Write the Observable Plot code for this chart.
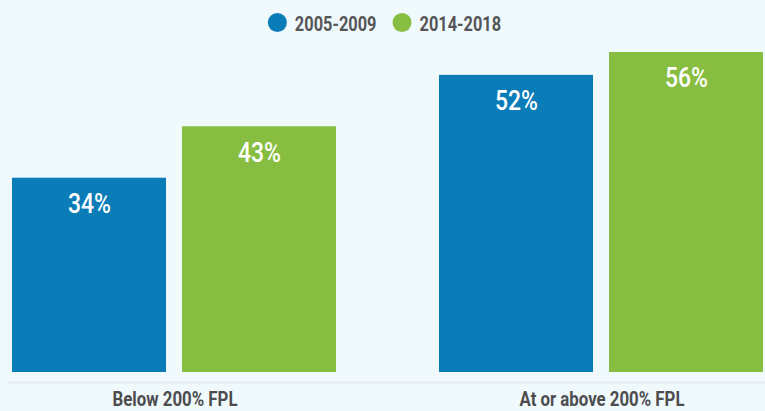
<!DOCTYPE html>
<html>
<head>
<meta charset="utf-8">
<script src="https://cdn.jsdelivr.net/npm/d3@7"></script>
<script src="https://cdn.jsdelivr.net/npm/@observablehq/plot@0.6"></script>
<style>
  html, body { margin: 0; padding: 0; background: #f0f9fc; }
  body { width: 765px; height: 411px; overflow: hidden; font-family: Roboto, sans-serif; }
  svg { display: block; }
</style>
</head>
<body>
<div id="legend"></div>
<div id="chart"></div>
<script>
const groups = ["Below 200% FPL", "At or above 200% FPL"];
const series = ["2005-2009", "2014-2018"];
const colors = ["#0a7cb8", "#87be42"];
const values2005 = [34, 52];
const values2014 = [43, 56];

function condense(sel, squeeze) {
  let last = 0;
  sel.each(function() {
    const w = this.getComputedTextLength();
    if (w > 0) {
      last = w * squeeze;
      this.setAttribute("textLength", last.toFixed(1));
      this.setAttribute("lengthAdjust", "spacingAndGlyphs");
    }
  });
  return last;
}

const data = [];
groups.forEach((g, i) => {
  data.push({group: g, series: series[0], value: values2005[i]});
  data.push({group: g, series: series[1], value: values2014[i]});
});

// Legend (circle swatches)
const lsvg = d3.select("#legend").append("svg").attr("width", 765).attr("height", 40);
const lg = lsvg.append("g");
let cx = 0;
series.forEach((s, i) => {
  const g = lg.append("g").attr("transform", `translate(${cx},0)`);
  g.append("circle").attr("cx", 9.5).attr("cy", 22.5).attr("r", 9.5).attr("fill", colors[i]);
  const t = g.append("text").attr("x", 27).attr("y", 23.5).attr("dy", "0.35em")
    .attr("font-family", "Roboto, sans-serif").attr("font-size", 21).attr("font-weight", "bold")
    .attr("fill", "#555558").text(s);
  const w = condense(t, 0.78);
  cx += 27 + w + 16;
});
const lw = cx - 16;
lg.attr("transform", `translate(${(765 - lw) / 2 + 2},0)`);

const chart = Plot.plot({
  width: 765,
  height: 371,
  marginTop: 12,
  marginBottom: 39,
  marginLeft: 11,
  marginRight: 0,
  style: {background: "transparent", fontFamily: "Roboto, sans-serif"},
  fx: {domain: groups, paddingInner: 0.238, paddingOuter: 0, label: null},
  x: {domain: series, paddingInner: 0.094, paddingOuter: 0, axis: null},
  y: {domain: [0, 56], axis: null},
  color: {domain: series, range: colors},
  marks: [
    Plot.frame({anchor: "bottom", facet: "super", dy: 10, insetLeft: -3, stroke: "#e5ecef", strokeWidth: 2}),
    Plot.barY(data, {fx: "group", x: "series", y: "value", fill: "series"}),
    Plot.text(data, {fx: "group", x: "series", y: "value", text: d => d.value + "%", dy: 26, fill: "white", fontSize: 28, fontWeight: 500}),
    Plot.axisFx({anchor: "bottom", tickSize: 0, tickPadding: 19, fontSize: 20.5, fontWeight: "bold", fill: "#4d4d50", label: null})
  ]
});
document.getElementById("chart").appendChild(chart);
condense(d3.select(chart).selectAll("text"), 0.82);
</script>
</body>
</html>
